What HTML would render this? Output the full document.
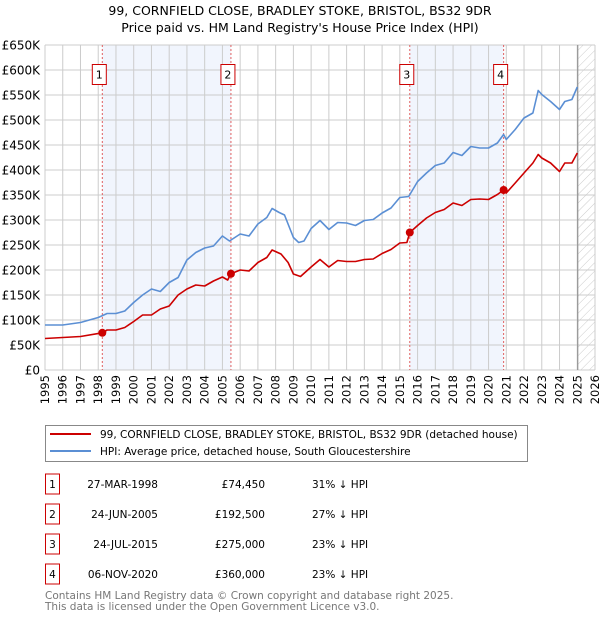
<!DOCTYPE html>
<html><head><meta charset="utf-8"><style>
body{margin:0;background:#fff;}
svg text{font-family:"DejaVu Sans","Liberation Sans",sans-serif;}
</style></head><body>
<svg id="chart" width="600" height="620" viewBox="0 0 600 620" xmlns="http://www.w3.org/2000/svg">
<defs><pattern id="hatch" width="6" height="6" patternUnits="userSpaceOnUse" patternTransform="rotate(45)"><line x1="0" y1="0" x2="0" y2="6" stroke="#ccc" stroke-width="1"/></pattern></defs>
<text x="300" y="15" text-anchor="middle" font-size="12.5">99, CORNFIELD CLOSE, BRADLEY STOKE, BRISTOL, BS32 9DR</text>
<text x="300" y="32" text-anchor="middle" font-size="12.5">Price paid vs. HM Land Registry's House Price Index (HPI)</text>
<g id="plot"></g>
<g id="legend">
<rect x="45.5" y="425.5" width="482" height="36" fill="#fff" stroke="#888"/>
<line x1="50" y1="434" x2="91" y2="434" stroke="#cc0000" stroke-width="2"/>
<text x="100" y="438" font-size="10.5">99, CORNFIELD CLOSE, BRADLEY STOKE, BRISTOL, BS32 9DR (detached house)</text>
<line x1="50" y1="451" x2="91" y2="451" stroke="#5b8fd4" stroke-width="2"/>
<text x="100" y="455" font-size="10.5">HPI: Average price, detached house, South Gloucestershire</text>
</g>
<g id="table" font-size="10.5"></g>
<text x="45" y="599" font-size="10.5" fill="#777">Contains HM Land Registry data © Crown copyright and database right 2025.</text>
<text x="45" y="610" font-size="10.5" fill="#777">This data is licensed under the Open Government Licence v3.0.</text>
</svg>
<script>
const hpiYears=[1995,1996,1997,1998,1998.5,1999,1999.5,2000,2000.5,2001,2001.5,2002,2002.5,2003,2003.5,2004,2004.5,2005,2005.4,2006,2006.5,2007,2007.5,2007.8,2008.2,2008.5,2009,2009.3,2009.6,2010,2010.5,2011,2011.5,2012,2012.5,2013,2013.5,2014,2014.5,2015,2015.5,2016,2016.5,2017,2017.5,2018,2018.5,2019,2019.5,2020,2020.5,2020.85,2021,2021.5,2022,2022.5,2022.8,2023,2023.5,2024,2024.3,2024.7,2025];
const hpiValues=[90,90,95,105,113,113,118,135,150,162,157,175,185,220,235,244,248,268,258,272,268,292,305,323,315,310,265,255,258,283,299,281,295,294,289,299,301,314,324,345,347,377,394,409,414,435,429,447,444,444,454,471,461,481,504,514,559,551,537,521,537,541,566];
const propYears=[1995,1997,1998.23,1998.5,1999,1999.5,2000,2000.5,2001,2001.5,2002,2002.5,2003,2003.5,2004,2004.5,2005,2005.3,2005.48,2006,2006.5,2007,2007.5,2007.8,2008.3,2008.7,2009,2009.4,2010,2010.5,2011,2011.5,2012,2012.5,2013,2013.5,2014,2014.5,2015,2015.4,2015.56,2016,2016.5,2017,2017.5,2018,2018.5,2019,2019.5,2020,2020.5,2020.85,2021,2021.5,2022,2022.5,2022.8,2023,2023.5,2024,2024.3,2024.7,2025];
const propValues=[63,67,74.45,80,80,85,97,110,110,122,128,150,162,170,168,178,186,180,192.5,200,198,215,225,240,232,215,192,187,206,221,206,219,217,217,221,222,233,241,254,255,275,289,304,315,321,334,329,341,342,341,351,360,354,374,394,414,431,424,414,397,414,414,434];
const saleYears=[1998.23,2005.48,2015.56,2020.85];
const salePrices=[74.45,192.5,275,360];
const saleLabels=["1","2","3","4"];
const saleDates=["27-MAR-1998","24-JUN-2005","24-JUL-2015","06-NOV-2020"];
const salePriceText=["£74,450","£192,500","£275,000","£360,000"];
const saleHpiText=["31% ↓ HPI","27% ↓ HPI","23% ↓ HPI","23% ↓ HPI"];
const yTicks=[0,50,100,150,200,250,300,350,400,450,500,550,600,650];
const yTickLabels=["£0","£50K","£100K","£150K","£200K","£250K","£300K","£350K","£400K","£450K","£500K","£550K","£600K","£650K"];
const xTicks=[1995,1996,1997,1998,1999,2000,2001,2002,2003,2004,2005,2006,2007,2008,2009,2010,2011,2012,2013,2014,2015,2016,2017,2018,2019,2020,2021,2022,2023,2024,2025,2026];
const dataEnd=2025.03;

const NS="http://www.w3.org/2000/svg";
const L=45,R=595,T=45,B=370,X0=1995,X1=2026,YMAX=650;
const xs=v=>L+(v-X0)/(X1-X0)*(R-L);
const ys=v=>B-v/YMAX*(B-T);
const plot=document.getElementById('plot');
function mk(tag,attrs,parent){const e=document.createElementNS(NS,tag);for(const k in attrs)e.setAttribute(k,attrs[k]);(parent||plot).appendChild(e);return e;}

for(let i=0;i<saleYears.length;i+=2){
  const r=mk('rect',{x:xs(saleYears[i]),y:T,width:xs(saleYears[i+1])-xs(saleYears[i]),height:B-T,fill:'#eef3fc',opacity:0.8});
  
  
}
const h=mk('rect',{x:xs(dataEnd),y:T,width:R-xs(dataEnd),height:B-T,fill:'url(#hatch)'});


xTicks.forEach(t=>{
  const g=mk('line',{x1:xs(t),x2:xs(t),y1:T,y2:B,stroke:'#ccc','stroke-width':1});
  
  
  const tx=mk('text',{x:0,y:0,'font-size':11.5,'text-anchor':'end',transform:`translate(${xs(t)+4},${B+5}) rotate(-90)`});
  tx.textContent=t;
  
  
});
yTicks.forEach((t,i)=>{
  const g=mk('line',{x1:L,x2:R,y1:ys(t),y2:ys(t),stroke:'#ccc','stroke-width':1});
  
  
  const tx=mk('text',{x:40,y:ys(t)+4.5,'font-size':12,'text-anchor':'end'});
  tx.textContent=yTickLabels[i];
  
  
});
const de=mk('line',{x1:xs(dataEnd),x2:xs(dataEnd),y1:T,y2:B,stroke:'#888','stroke-width':1});


saleYears.forEach(y=>{
  const l=mk('line',{x1:xs(y),x2:xs(y),y1:T,y2:B,stroke:'#e06060','stroke-width':1,'stroke-dasharray':'2,2'});
  
  
});
function path(xa,va,color,name){
  const d=xa.map((x,i)=>(i?'L':'M')+xs(x).toFixed(1)+','+ys(va[i]).toFixed(1)).join('');
  const p=mk('path',{d,fill:'none',stroke:color,'stroke-width':1.6,'stroke-linejoin':'round'});
  
  
}
path(hpiYears,hpiValues,'#5b8fd4','hpi-line');
path(propYears,propValues,'#cc0000','property-price-line');
saleYears.forEach((y,i)=>{
  const c=mk('circle',{cx:xs(y),cy:ys(salePrices[i]),r:4,fill:'#cc0000'});
  
  
  const bx=mk('rect',{x:xs(y)-10,y:64.5,width:14,height:20,fill:'#fff',stroke:'#cc0000'});
  
  
  const t=mk('text',{x:xs(y)-3,y:78.5,'font-size':11,'text-anchor':'middle'});
  t.textContent=saleLabels[i];
  
  
});
const tb=document.getElementById('table');
saleLabels.forEach((lab,i)=>{
  const cy=483+i*30;
  const b=mk('rect',{x:45.5,y:cy-9,width:14,height:20,fill:'#fff',stroke:'#cc0000'},tb);
  
  
  const cells=[[52.5,'middle',lab,'table-row-number'],[158,'end',saleDates[i],'table-date'],[265,'end',salePriceText[i],'table-price'],[312,'start',saleHpiText[i],'table-hpi-diff']];
  cells.forEach(c=>{
    const t=mk('text',{x:c[0],y:cy+5,'text-anchor':c[1]},tb);
    t.textContent=c[2];
    
    
  });
});
</script>
</body></html>
